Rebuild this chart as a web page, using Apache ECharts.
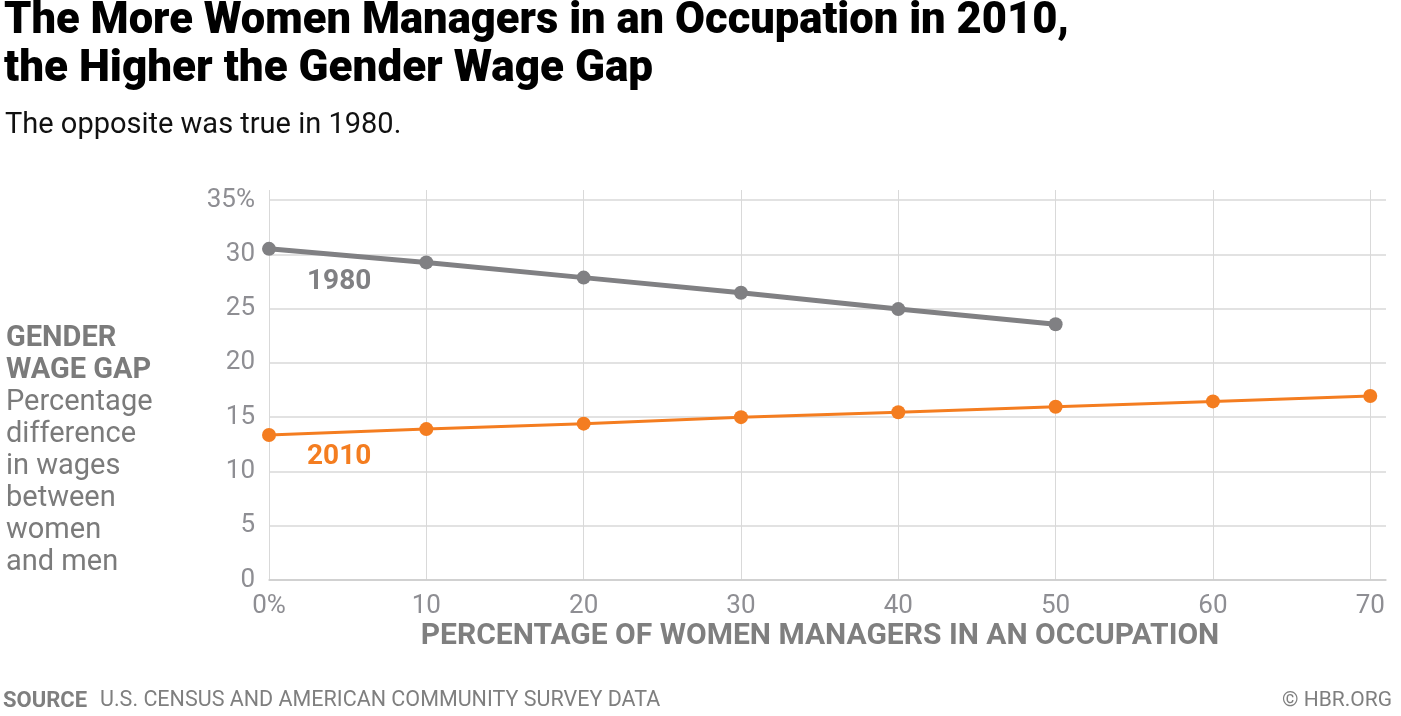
<!DOCTYPE html>
<html>
<head>
<meta charset="utf-8">
<script src="https://cdn.jsdelivr.net/npm/echarts@6/dist/echarts.min.js"></script>
<style>
html,body{margin:0;padding:0;background:#fff;}
#chart{width:1401px;height:716px;}
</style>
</head>
<body>
<div id="chart"></div>
<script>
// ---- data ----
var xValues = [0, 10, 20, 30, 40, 50, 60, 70];
var gap1980 = [30.5, 29.25, 27.85, 26.45, 24.95, 23.55];
var gap2010 = [13.35, 13.9, 14.4, 15.0, 15.45, 15.95, 16.45, 16.95];
var yTicks = [0, 5, 10, 15, 20, 25, 30, 35];
var titleLines = ['The More Women Managers in an Occupation in 2010,', 'the Higher the Gender Wage Gap'];
var subtitle = 'The opposite was true in 1980.';
var yTitleBold = ['GENDER', 'WAGE GAP'];
var yTitleLines = ['Percentage', 'difference', 'in wages', 'between', 'women', 'and men'];
var xTitle = 'PERCENTAGE OF WOMEN MANAGERS IN AN OCCUPATION';
var sourceLabel = 'SOURCE';
var sourceText = 'U.S. CENSUS AND AMERICAN COMMUNITY SURVEY DATA';
var credit = '\u00A9 HBR.ORG';

var FONT = 'Roboto, "Noto Sans", sans-serif';
var GRAY = '#808083';
var ORANGE = '#f47d20';
var LABEL = '#8e8e93';

function pairs(vals) {
  return vals.map(function (v, i) { return [xValues[i], v]; });
}

var chart = echarts.init(document.getElementById('chart'), null, {renderer: 'canvas'});

var graphics = [];
graphics.push({type: 'text', left: 4, top: 0, style: {text: titleLines[0], font: '900 43.5px ' + FONT, fill: '#000'}});
graphics.push({type: 'text', left: 4, top: 48, style: {text: titleLines[1], font: '900 44px ' + FONT, fill: '#000'}});
graphics.push({type: 'text', left: 5, top: 111, style: {text: subtitle, font: '400 29px ' + FONT, fill: '#111'}});
yTitleBold.forEach(function (t, i) {
  graphics.push({type: 'text', left: 6, top: 324 + i * 32, style: {text: t, font: '700 29px ' + FONT, fill: '#7b7b7b'}});
});
yTitleLines.forEach(function (t, i) {
  graphics.push({type: 'text', left: 6, top: 388 + i * 32, style: {text: t, font: '400 29px ' + FONT, fill: '#7b7b7b'}});
});
graphics.push({type: 'text', x: 820, y: 636, style: {text: xTitle, font: '700 30px ' + FONT, fill: '#7f7f7f', align: 'center', verticalAlign: 'middle'}});
graphics.push({type: 'text', x: 307, y: 282, style: {text: '1980', font: '700 28px ' + FONT, fill: GRAY, verticalAlign: 'middle'}});
graphics.push({type: 'text', x: 307, y: 457, style: {text: '2010', font: '700 28px ' + FONT, fill: ORANGE, verticalAlign: 'middle'}});
graphics.push({type: 'text', x: 3, y: 701, style: {text: sourceLabel, font: '700 22px ' + FONT, fill: '#7f7f7f', verticalAlign: 'middle'}});
graphics.push({type: 'text', x: 100, y: 701, style: {text: sourceText, font: '400 21.5px ' + FONT, fill: '#7f7f7f', verticalAlign: 'middle'}});
graphics.push({type: 'text', x: 1392, y: 701, style: {text: credit, font: '400 21px ' + FONT, fill: '#7f7f7f', align: 'right', verticalAlign: 'middle'}});

var option = {
  backgroundColor: '#fff',
  animation: false,
  grid: [
    {left: 269, right: 15, top: 190, bottom: 136},
    {left: 269, right: 15, top: 200, bottom: 136}
  ],
  xAxis: [
    {
      type: 'value', gridIndex: 0, min: 0, max: 71, interval: 10,
      axisLine: {show: false}, axisTick: {show: false},
      splitLine: {show: true, showMaxLine: false, lineStyle: {color: '#d9d9d9', width: 1}},
      axisLabel: {
        showMaxLabel: false, margin: 13, color: LABEL, fontSize: 26, fontFamily: FONT,
        formatter: function (v) { return v === 0 ? '0%' : String(v); }
      }
    },
    {
      type: 'value', gridIndex: 1, min: 0, max: 71, interval: 10, show: true,
      axisLine: {show: true, lineStyle: {color: '#cccccc', width: 1.5}},
      axisTick: {show: false}, axisLabel: {show: false}, splitLine: {show: false}
    }
  ],
  yAxis: [
    {
      type: 'value', gridIndex: 0, min: 0, max: 35.92, show: false, splitLine: {show: false}
    },
    {
      type: 'value', gridIndex: 1, min: 0, max: yTicks[yTicks.length - 1], interval: 5,
      axisLine: {show: false}, axisTick: {show: false},
      splitLine: {show: true, lineStyle: {color: '#e2e2e2', width: 2}},
      axisLabel: {
        margin: 14, color: LABEL, fontSize: 26, fontFamily: FONT,
        formatter: function (v) { return v === 35 ? '35%' : String(v); }
      }
    }
  ],
  series: [
    {
      name: '1980', type: 'line', xAxisIndex: 0, yAxisIndex: 0,
      data: pairs(gap1980), symbol: 'circle', symbolSize: 14,
      lineStyle: {color: GRAY, width: 5}, itemStyle: {color: GRAY},
      z: 3
    },
    {
      name: '2010', type: 'line', xAxisIndex: 0, yAxisIndex: 0,
      data: pairs(gap2010), symbol: 'circle', symbolSize: 14,
      lineStyle: {color: ORANGE, width: 3}, itemStyle: {color: ORANGE},
      z: 3
    }
  ],
  graphic: graphics
};
chart.setOption(option);
</script>
</body>
</html>
